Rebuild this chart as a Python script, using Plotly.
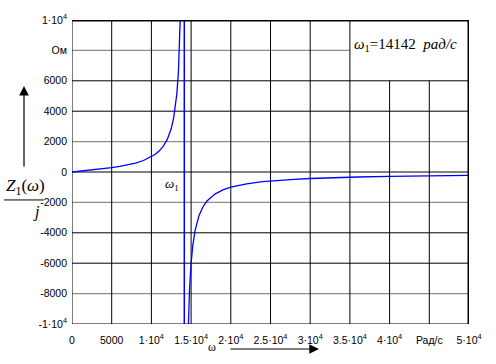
import plotly.graph_objects as go

# ---- data ----
omega_left = [0, 1000, 2000, 3000, 4000, 5000, 6000, 7000, 8000, 9000, 10000, 10500, 11000,
              11500, 12000, 12500, 12800, 13000, 13200, 13400, 13500, 13600, 13650, 13700, 13800]
z_left = [0, 50, 102, 157, 217, 286, 366, 464, 588, 756, 1000, 1170, 1392,
          1697, 2143, 2857, 3540, 4194, 5124, 6556, 7606, 9043, 9980, 11129, 14435]
omega_right = [14600, 14700, 14800, 15000, 15200, 15500, 16000, 16500, 17000, 18000, 19000, 20000,
               22000, 24000, 26000, 28000, 30000, 33000, 36000, 40000, 45000, 50000]
z_right = [-11094, -9136, -7773, -6000, -4897, -3851, -2857, -2284, -1910, -1452, -1180, -1000,
           -775, -638, -546, -480, -429, -371, -329, -286, -247, -217]
omega_1 = 14142

x_ticks = [0, 5000, 10000, 15000, 20000, 25000, 30000, 35000, 40000, 45000, 50000]
x_tick_text = ["0", "5000", "1·10<sup>4</sup>", "1.5·10<sup>4</sup>", "2·10<sup>4</sup>",
               "2.5·10<sup>4</sup>", "3·10<sup>4</sup>", "3.5·10<sup>4</sup>", "4·10<sup>4</sup>",
               "Рад/с", "5·10<sup>4</sup>"]
y_ticks = [10000, 8000, 6000, 4000, 2000, 0, -2000, -4000, -6000, -8000, -10000]
y_tick_text = ["1·10<sup>4</sup>", "Ом", "6000", "4000", "2000", "0", "-2000", "-4000",
               "-6000", "-8000", "-1·10<sup>4</sup>"]
gray_grid = [8000, 2000, -2000, -8000]

# text box region (hides grid)
box_x0, box_y0 = 35000, 6000

fig = go.Figure()
blue = "#0000ff"
fig.add_trace(go.Scatter(x=omega_left, y=z_left, mode="lines",
                         line=dict(color=blue, width=1.3), hoverinfo="skip"))
fig.add_trace(go.Scatter(x=omega_right, y=z_right, mode="lines",
                         line=dict(color=blue, width=1.3), hoverinfo="skip"))
fig.add_trace(go.Scatter(x=[omega_1, omega_1], y=[-10000, 10000], mode="lines",
                         line=dict(color=blue, width=1.5), hoverinfo="skip"))

shapes = []
# horizontal grid
for yv in y_ticks[1:-1]:
    col = "#8c8c8c" if yv in gray_grid else "black"
    x1 = box_x0 if yv > box_y0 else 50000
    shapes.append(dict(type="line", xref="x", yref="y", x0=0, x1=x1, y0=yv, y1=yv,
                       line=dict(color=col, width=1.3 if yv in gray_grid else 1), layer="below"))
# vertical grid
for xv in x_ticks[1:-1]:
    y1 = box_y0 if xv > box_x0 else 10000
    shapes.append(dict(type="line", xref="x", yref="y", x0=xv, x1=xv, y0=-10000, y1=y1,
                       line=dict(color="black", width=1), layer="below"))
# frame
shapes.append(dict(type="line", xref="x", yref="y", x0=0, x1=0, y0=-10000, y1=10000,
                   line=dict(color="black", width=1)))
shapes.append(dict(type="line", xref="x", yref="y", x0=0, x1=50000, y0=-10000, y1=-10000,
                   line=dict(color="black", width=1)))
shapes.append(dict(type="line", xref="x", yref="y", x0=0, x1=50000, y0=10000, y1=10000,
                   line=dict(color="black", width=3)))
shapes.append(dict(type="line", xref="x", yref="y", x0=50000, x1=50000, y0=-10000, y1=10000,
                   line=dict(color="black", width=3)))
# fraction bar of the y label
shapes.append(dict(type="line", xref="paper", yref="paper", x0=-0.171, x1=-0.071,
                   y0=0.408, y1=0.408, line=dict(color="black", width=1)))
fig.update_layout(shapes=shapes)

serif = "Liberation Serif"
annotations = [
    # y axis arrow
    dict(xref="paper", yref="paper", x=-0.1209, y=0.783, ax=0, ay=82, showarrow=True,
         arrowhead=2, arrowsize=1.6, arrowwidth=1.2, arrowcolor="black", text=""),
    # x axis arrow
    dict(xref="paper", yref="paper", x=0.622, y=-0.0822, ax=-90, ay=0, showarrow=True,
         arrowhead=2, arrowsize=1.6, arrowwidth=1.2, arrowcolor="black", text=""),
    dict(xref="paper", yref="paper", x=0.353, y=-0.105, text="ω", showarrow=False,
         font=dict(family=serif, size=12, color="black")),
    dict(xref="paper", yref="paper", x=-0.172, y=0.45, xanchor="left",
         text="<i>Z</i><sub>1</sub>(<i>ω</i>)",
         showarrow=False, font=dict(family=serif, size=17, color="black")),
    dict(xref="paper", yref="paper", x=-0.104, y=0.37, text="<i>j</i>",
         showarrow=False, font=dict(family=serif, size=16, color="black")),
    dict(xref="paper", yref="paper", x=0.23, y=0.46, text="<i>ω</i><sub>1</sub>",
         showarrow=False, font=dict(family=serif, size=13, color="black")),
    dict(xref="paper", yref="paper", x=0.706, y=0.955, xanchor="left",
         text="<i>ω</i><sub>1</sub>=14142  <i>рад/с</i>",
         showarrow=False, font=dict(family=serif, size=15, color="black")),
]
fig.update_layout(annotations=annotations)

fig.update_xaxes(range=[0, 50000], tickvals=x_ticks, ticktext=x_tick_text, showgrid=False,
                 zeroline=False, showline=False, ticks="", ticklabelstandoff=8, automargin=False,
                 tickfont=dict(family="Liberation Sans", size=10.5, color="black"))
fig.update_yaxes(range=[-10000, 10000], tickvals=y_ticks, ticktext=y_tick_text, showgrid=False,
                 zeroline=False, showline=False, ticks="", ticklabelstandoff=4, automargin=False,
                 tickfont=dict(family="Liberation Sans", size=10.5, color="black"))
fig.update_layout(width=496, height=364, margin=dict(l=72, r=27, t=20, b=40, autoexpand=False),
                  plot_bgcolor="white", paper_bgcolor="white", showlegend=False)
fig.write_html("out.html", config={"displayModeBar": False, "staticPlot": True})

# remove the browser's default body margin so the figure sits at the page origin
with open("out.html", encoding="utf-8") as f:
    html = f.read()
html = html.replace("<body>", '<body style="margin:0;overflow:hidden">', 1)
with open("out.html", "w", encoding="utf-8") as f:
    f.write(html)
